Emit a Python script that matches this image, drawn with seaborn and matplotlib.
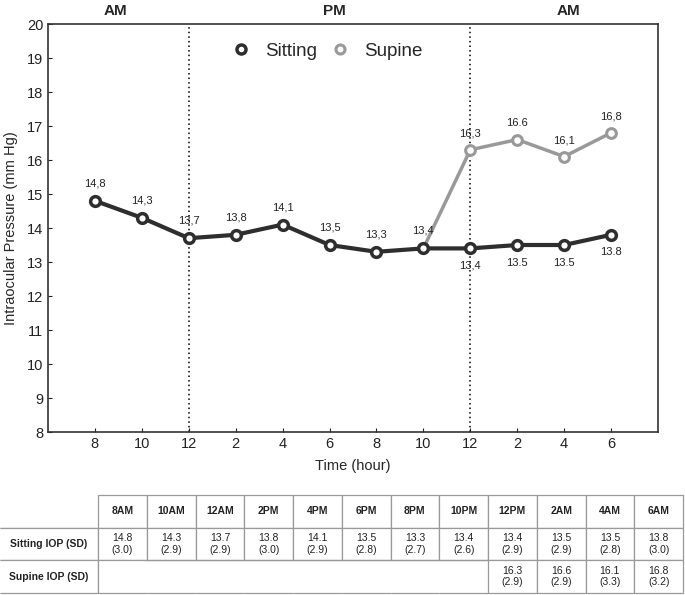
import numpy as np
import pandas as pd
import matplotlib
matplotlib.use('Agg')
import matplotlib.pyplot as plt
import seaborn as sns

# data
hour_ticks = ['8', '10', '12', '2', '4', '6', '8', '10', '12', '2', '4', '6']
time_cols = ['8AM', '10AM', '12AM', '2PM', '4PM', '6PM', '8PM', '10PM',
             '12PM', '2AM', '4AM', '6AM']
sitting = [14.8, 14.3, 13.7, 13.8, 14.1, 13.5, 13.3, 13.4, 13.4, 13.5, 13.5, 13.8]
sitting_sd = [3.0, 2.9, 2.9, 3.0, 2.9, 2.8, 2.7, 2.6, 2.9, 2.9, 2.8, 3.0]
supine = [None] * 8 + [16.3, 16.6, 16.1, 16.8]
supine_sd = [None] * 8 + [2.9, 2.9, 3.3, 3.2]
sitting_lbl = ['14,8', '14,3', '13,7', '13,8', '14,1', '13,5', '13,3', '13,4',
               '13,4', '13.5', '13.5', '13.8']
supine_lbl = ['16,3', '16.6', '16,1', '16,8']
period_labels = ['AM', 'PM', 'AM']
period_x = [0.43, 5.1, 10.1]
noon_idx = [2, 8]

sns.set_style('ticks')
plt.rcParams['font.family'] = ['Liberation Sans', 'DejaVu Sans']

idx = np.arange(len(sitting))
df_sit = pd.DataFrame({'x': idx, 'y': sitting})
# supine line starts from the last sitting reading (10PM)
sup_x = [7] + [i for i, v in enumerate(supine) if v is not None]
sup_y = [sitting[7]] + [v for v in supine if v is not None]
df_sup = pd.DataFrame({'x': sup_x, 'y': sup_y})

dark = '#2e2e2e'
grey = '#999999'

fig = plt.figure(figsize=(6.85, 5.95), dpi=100)
ax = fig.add_axes([48 / 685, 163 / 595, 610 / 685, 408 / 595])

sns.lineplot(data=df_sup, x='x', y='y', ax=ax, color=grey, linewidth=2.5,
             label='_nolegend_', zorder=2)
ax.plot(df_sup['x'][1:], df_sup['y'][1:], 'o', ms=7, mfc='white', mec=grey,
        mew=2.2, zorder=3)
sns.lineplot(data=df_sit, x='x', y='y', ax=ax, color=dark, linewidth=3,
             label='_nolegend_', zorder=4)
ax.plot(df_sit['x'], df_sit['y'], 'o', ms=7, mfc='white', mec=dark,
        mew=2.5, zorder=5)

for i, (v, t) in enumerate(zip(sitting, sitting_lbl)):
    if i < 8:
        ax.annotate(t, (i, v), xytext=(0, 9), textcoords='offset points',
                    ha='center', va='bottom', fontsize=8, color='#222222')
    else:
        ax.annotate(t, (i, v), xytext=(0, -9), textcoords='offset points',
                    ha='center', va='top', fontsize=8, color='#222222')
for x, v, t in zip(sup_x[1:], sup_y[1:], supine_lbl):
    ax.annotate(t, (x, v), xytext=(0, 8), textcoords='offset points',
                ha='center', va='bottom', fontsize=8, color='#222222')

for n in noon_idx:
    ax.axvline(n, color='black', linestyle=(0, (1, 2)), linewidth=1.1, zorder=1)

for x, t in zip(period_x, period_labels):
    ax.text(x, 1.015, t, transform=ax.get_xaxis_transform(), ha='center',
            va='bottom', fontsize=11, fontweight='bold')

# legend: markers only
h1, = ax.plot([], [], 'o', ms=6.5, mfc='white', mec=dark, mew=2.5)
h2, = ax.plot([], [], 'o', ms=6.5, mfc='white', mec=grey, mew=2.2)
ax.legend([h1, h2], ['Sitting', 'Supine'], loc='upper center',
          bbox_to_anchor=(0.45, 0.995), ncol=2, frameon=False, fontsize=13.5,
          handletextpad=0.3, columnspacing=0.2)

ax.set_xlim(-1, 12)
ax.set_ylim(8, 20)
ax.set_xticks(idx)
ax.set_xticklabels(hour_ticks)
ax.set_yticks(range(8, 21))
ax.tick_params(direction='in', length=3, labelsize=10.5, colors='#222222')
ax.set_xlabel('Time (hour)', fontsize=10.5, labelpad=6)
ax.set_ylabel('Intraocular Pressure (mm Hg)', fontsize=10.5, labelpad=6)
for s in ax.spines.values():
    s.set_visible(True)
    s.set_color('#333333')
    s.set_linewidth(1.2)

# table below the chart
def cell_txt(v, sd):
    return '' if v is None else f'{v:.1f}\n({sd:.1f})'

rows = [[''] + time_cols,
        ['Sitting IOP (SD)'] + [cell_txt(v, s) for v, s in zip(sitting, sitting_sd)],
        ['Supine IOP (SD)'] + [cell_txt(v, s) for v, s in zip(supine, supine_sd)]]

tax = fig.add_axes([0, 2 / 595, 683 / 685, 98 / 595])
tax.axis('off')
w0 = 98 / 683
wc = (1 - w0) / len(time_cols)
tbl = tax.table(cellText=rows, colWidths=[w0] + [wc] * len(time_cols),
                cellLoc='center', bbox=[0, 0, 1, 1])
tbl.auto_set_font_size(False)
tbl.set_fontsize(7.5)
heights = [33 / 98, 32 / 98, 33 / 98]
for (r, c), cell in tbl.get_celld().items():
    cell.set_edgecolor('#999999')
    cell.set_linewidth(0.9)
    cell.set_height(heights[r])
    txt = cell.get_text()
    txt.set_color('#222222')
    if r == 0 or c == 0:
        txt.set_fontweight('bold')
    if c == 0:
        txt.set_fontsize(7.5)
        cell.visible_edges = 'B' if r == 0 else 'TBR'
    elif r == 2 and supine[c - 1] is None:
        cell.visible_edges = 'TB'
        if c == 1:
            cell.visible_edges = 'TBL'

fig.savefig('out.png', dpi=100)
